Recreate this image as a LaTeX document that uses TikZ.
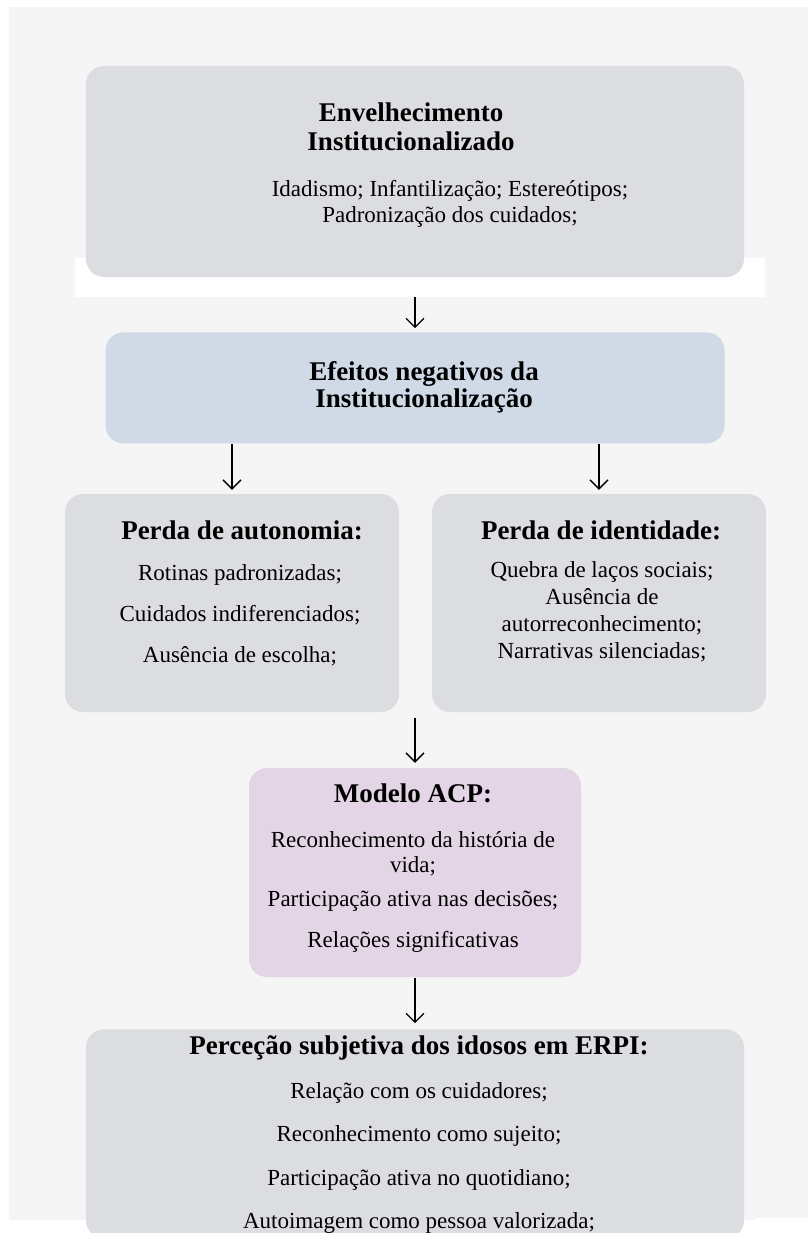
\documentclass[tikz,border=0pt]{standalone}
\usepackage{fontspec}
\setmainfont{Liberation Serif}
\usepackage{tikz}
\usetikzlibrary{positioning, arrows.meta}

\definecolor{fundo}{HTML}{F5F5F5}
\definecolor{cinza}{HTML}{DCDDE1}
\definecolor{azul}{HTML}{CFDAE6}
\definecolor{rosa}{HTML}{E4D5E6}

\tikzset{
	caixa/.style={rectangle, rounded corners=18pt, fill=cinza, inner sep=0pt},
	titulo/.style={anchor=base, align=center, inner sep=0pt, font=\fontsize{27}{29}\selectfont\bfseries},
	texto/.style={anchor=base, align=center, inner sep=0pt, font=\fontsize{23}{26}\selectfont},
	seta/.style={-{Straight Barb[length=9pt,width=18pt]}, line width=1.3pt}
}

\begin{document}
\begin{tikzpicture}[x=1pt, y=-1pt]
					\useasboundingbox (0,0) rectangle (808,1233);
					% Fundo
					\fill[white] (0,0) rectangle (808,1233);
					\fill[fundo] (9,7) rectangle (808,1220);
					\fill[white] (75,258) rectangle (765,297);
					
					% Envelhecimento institucionalizado (base = ultima linha)
					\node[caixa, minimum width=658pt, minimum height=211pt] (envelh) at (415,171.5) {};
					\node[titulo] (envelhtit) at (411,151) {Envelhecimento\\Institucionalizado};
					\node[texto] (envelhtxt) at (450,223) {Idadismo; Infantilização; Estereótipos;\\Padronização dos cuidados;};
					
					% Efeitos negativos
					\node[caixa, fill=azul, minimum width=619pt, minimum height=111pt, below=55pt of envelh] (efeitos) {};
					\node[titulo, font=\fontsize{27}{27}\selectfont\bfseries] (efeitostit) at (424,407) {Efeitos negativos da\\Institucionalização};
					
					% Perda de autonomia / identidade
					\node[caixa, minimum width=334pt, minimum height=218pt] (autonomia) at (232,603) {};
					\node[titulo] (autonomiatit) at (242,539) {Perda de autonomia:};
					\node[texto, font=\fontsize{23}{41}\selectfont] (autonomiatxt) at (240,662) {Rotinas padronizadas;\\Cuidados indiferenciados;\\Ausência de escolha;};
					
					\node[caixa, minimum width=334pt, minimum height=218pt] (identidade) at (599,603) {};
					\node[titulo] (identidadetit) at (601,539) {Perda de identidade:};
					\node[texto, font=\fontsize{23}{27}\selectfont] (identidadetxt) at (602,658) {Quebra de laços sociais;\\Ausência de\\autorreconhecimento;\\Narrativas silenciadas;};
					
					% Modelo ACP
					\node[caixa, fill=rosa, minimum width=332pt, minimum height=209pt] (modelo) at (415,872.5) {};
					\node[titulo] (modelotit) at (413,802) {Modelo ACP:};
					\node[texto, font=\fontsize{23}{25}\selectfont] (modelotxt1) at (413,872) {Reconhecimento da história de\\vida;};
					\node[texto] (modelotxt2) at (413,906) {Participação ativa nas decisões;};
					\node[texto] (modelotxt3) at (413,947) {Relações significativas};
					
					% Perceção subjetiva
					\node[caixa, minimum width=658pt, minimum height=209pt, below=52pt of modelo] (percecao) {};
					\node[titulo] (percecaotit) at (419,1054) {Perceção subjetiva dos idosos em ERPI:};
					\node[texto, font=\fontsize{23}{43.5}\selectfont] (percecaotxt) at (419,1228.5) {Relação com os cuidadores;\\Reconhecimento como sujeito;\\Participação ativa no quotidiano;\\Autoimagem como pessoa valorizada;};
					
					\fill[white] (0,1222) rectangle (75,1233);
					\fill[white] (755,1218) rectangle (808,1233);
					
					% Setas
					\draw[seta, shorten <=20pt, shorten >=4pt] (envelh) -- (efeitos);
					\draw[seta, shorten >=4pt] (efeitos.south -| autonomia.north) -- (autonomia);
					\draw[seta, shorten >=4pt] (efeitos.south -| identidade.north) -- (identidade);
					\draw[seta, shorten <=6pt, shorten >=5pt] (modelo.north |- autonomia.south) -- (modelo);
					\draw[seta, shorten <=1pt, shorten >=6pt] (modelo) -- (percecao);
				\end{tikzpicture}
\end{document}
